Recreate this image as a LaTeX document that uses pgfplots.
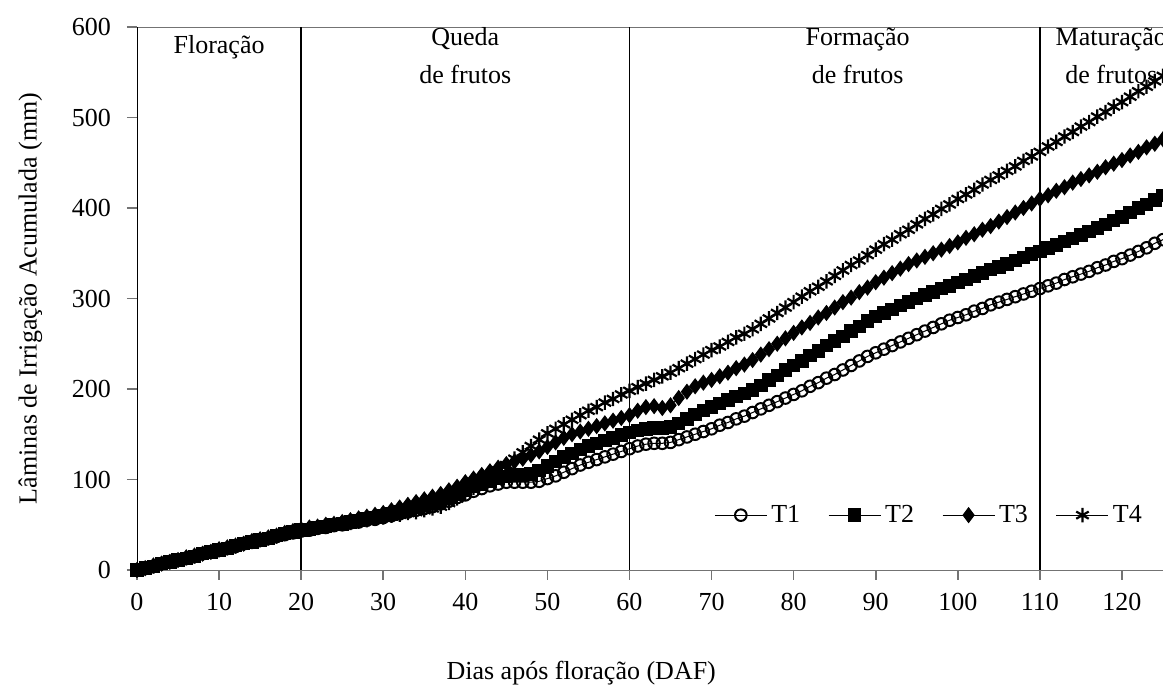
\documentclass[border=0pt]{standalone}
\usepackage{fontspec}
\setmainfont{Liberation Serif}
\usepackage{pgfplots}
\usepackage{pgfplotstable}
\pgfplotsset{compat=1.18}
\pgfplotstableread{
x T1 T2 T3 T4
0 0 0 0 0
1 2 2 2 2
2 4 4 5 4
3 7 7 7 7
4 9 9 9 9
5 11 11 11 11
6 13 13 14 13
7 15 15 16 15
8 18 18 18 18
9 20 20 20 20
10 22 22 23 22
11 24 24 25 24
12 26 27 27 26
13 29 29 29 29
14 31 31 32 31
15 33 33 34 33
16 35 35 36 35
17 37 38 38 37
18 39 40 41 40
19 41 42 43 42
20 43 44 45 44
21 44 45 47 45
22 46 47 48 47
23 47 48 50 48
24 49 50 51 50
25 50 51 53 51
26 52 53 55 52
27 53 55 57 54
28 55 57 59 55
29 56 58 61 57
30 58 60 63 58
31 60 62 66 60
32 62 64 69 61
33 64 66 72 63
34 66 69 75 64
35 68 71 78 66
36 70 74 81 68
37 73 77 84 70
38 76 80 88 74
39 80 84 92 79
40 83 88 97 84
41 87 92 101 91
42 90 95 105 98
43 93 98 109 104
44 95 101 113 110
45 97 103 117 116
46 97 105 120 123
47 97 105 123 130
48 97 106 127 137
49 98 110 131 144
50 101 115 136 151
51 104 120 141 156
52 108 125 146 161
53 112 129 150 166
54 116 133 153 171
55 119 137 156 176
56 122 140 159 180
57 125 143 162 185
58 128 146 165 189
59 131 149 168 194
60 134 152 171 198
61 137 154 176 202
62 139 156 180 206
63 140 157 181 210
64 140 157 179 214
65 141 158 182 218
66 144 162 190 223
67 147 167 197 228
68 150 172 203 233
69 153 176 207 238
70 156 180 210 243
71 160 184 214 247
72 163 188 218 252
73 167 192 223 257
74 170 195 227 261
75 174 199 232 266
76 178 204 238 272
77 182 210 244 278
78 186 215 250 284
79 190 221 256 290
80 194 226 262 296
81 198 231 268 302
82 203 237 273 308
83 207 242 279 313
84 212 248 284 319
85 216 253 290 325
86 221 258 296 331
87 226 264 301 337
88 231 269 307 342
89 236 275 312 348
90 240 280 318 354
91 244 284 323 360
92 248 288 328 365
93 252 292 333 371
94 256 296 338 376
95 260 300 342 382
96 264 304 346 388
97 268 307 350 393
98 272 311 354 399
99 276 314 358 404
100 279 318 362 410
101 282 321 367 415
102 286 325 371 420
103 289 328 376 426
104 293 332 380 431
105 296 335 385 436
106 299 338 390 441
107 302 342 395 446
108 305 345 400 452
109 308 349 405 457
110 311 352 410 462
111 314 356 414 468
112 317 359 419 473
113 321 363 423 479
114 324 366 428 484
115 327 370 432 490
116 330 374 436 495
117 334 378 440 501
118 337 382 445 506
119 341 386 449 512
120 344 390 453 517
121 348 395 458 523
122 352 400 462 529
123 356 404 467 534
124 361 409 471 540
125 365 414 476 546
}\datatable
\begin{document}
\begin{tikzpicture}
\begin{axis}[
  scale only axis,
  width=513pt, height=271.5pt,
  xmin=0, xmax=125, ymin=0, ymax=600,
  xtick={0,10,...,120}, ytick={0,100,...,600},
  font=\fontsize{13}{16}\selectfont,
  /pgf/number format/assume math mode=true,
  tick align=outside, major tick length=5pt,
  xtick pos=bottom, ytick pos=left,
  axis y line*=left,
  every outer x axis line/.append style={black!55},
  every outer y axis line/.append style={black},
  x axis line style={black!55},
  tick style={black!55, line width=0.8pt},
  xticklabel style={yshift=-3pt},
  yticklabel style={xshift=-4.5pt},
  xlabel={Dias após floração (DAF)},
  ylabel={Lâminas de Irrigação Acumulada (mm)},
  xlabel style={at={(axis description cs:0.433,-0.19)}, anchor=center},
  ylabel style={at={(axis description cs:-0.104,0.5)}, anchor=center},
  legend columns=4,
  legend style={at={(axis description cs:0.773,0.101)}, anchor=center, draw=none, fill=none,
    /tikz/every even column/.append style={column sep=12pt}},
  legend image code/.code={\draw[mark repeat=2,mark phase=2,#1] plot coordinates {(0pt,0pt) (13pt,0pt) (26pt,0pt)};},
  every axis plot/.append style={black, line width=0.5pt},
]
\addplot[mark=o, mark size=2.9pt, mark options={fill=white, line width=1pt}] table[x=x,y=T1] {\datatable};
\addplot[mark=square*, mark size=3.1pt, mark options={line width=0.5pt}] table[x=x,y=T2] {\datatable};
\addplot[mark=diamond*, mark size=3.6pt, mark options={line width=0.6pt}] table[x=x,y=T3] {\datatable};
\addplot[mark=asterisk, mark size=3.6pt, mark options={line width=1.1pt}] table[x=x,y=T4] {\datatable};
\legend{T1,T2,T3,T4}
\draw[black, line width=0.9pt] (axis cs:20,0) -- (axis cs:20,600);
\draw[black, line width=0.9pt] (axis cs:60,0) -- (axis cs:60,600);
\draw[black, line width=0.9pt] (axis cs:110,0) -- (axis cs:110,600);
\node[font=\fontsize{13}{19}\selectfont, align=center] at (axis cs:10,578) {Floração};
\node[font=\fontsize{13}{19}\selectfont, align=center] at (axis cs:40,568) {Queda\\de frutos};
\node[font=\fontsize{13}{19}\selectfont, align=center] at (axis cs:87.8,568) {Formação\\de frutos};
\node[font=\fontsize{13}{19}\selectfont, align=center] at (axis cs:118.7,568) {Maturação\\de frutos};
\coordinate (SW) at (rel axis cs:0,0);
\coordinate (NE) at (rel axis cs:1,1);
\end{axis}
\pgfresetboundingbox
\path[use as bounding box] ([xshift=-68.5pt,yshift=-63pt]SW) rectangle ([yshift=13.5pt]NE);
\end{tikzpicture}
\end{document}
